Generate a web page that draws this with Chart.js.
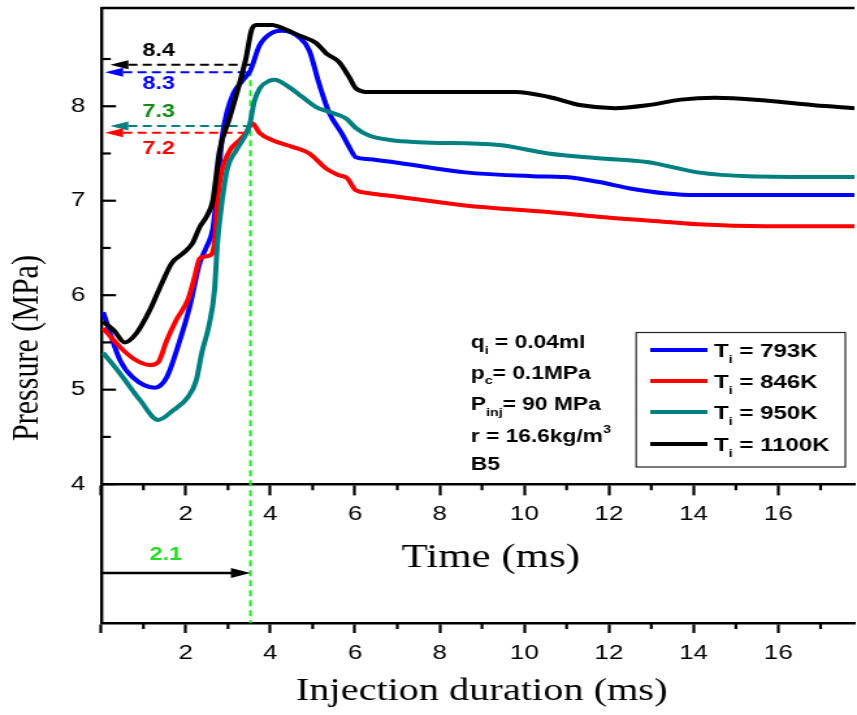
<!DOCTYPE html>
<html>
<head>
<meta charset="utf-8">
<script src="https://cdn.jsdelivr.net/npm/chart.js@4.4.1/dist/chart.umd.min.js"></script>
<style>
html, body { margin: 0; padding: 0; background: #fff; overflow: hidden; }
/* the original figure is stretched sideways, so the chart is drawn narrow and widened */
#wrap { width: 659px; height: 715px; transform: scaleX(1.3005); transform-origin: 0 0; }
</style>
</head>
<body>
<div id="wrap"><canvas id="myChart"></canvas></div>
<script>
'use strict';
// time (ms) / pressure (MPa)
let t793 = [0.05, 0.45, 0.75, 1.27, 1.55, 1.86, 2.09, 2.33, 2.49, 2.64, 2.72, 2.80, 2.87, 2.97, 3.12, 3.34, 3.53, 3.74, 4.05, 4.28, 4.68, 4.92, 5.15, 5.39, 5.69, 5.86, 6.02, 6.33, 7.04, 8.6, 10.2, 10.96, 11.74, 12.5, 13.3, 14.1, 17.8];
let p793 = [5.82, 5.31, 5.13, 5.02, 5.13, 5.52, 5.87, 6.34, 6.51, 6.70, 7.00, 7.40, 7.70, 7.93, 8.13, 8.27, 8.38, 8.64, 8.78, 8.80, 8.73, 8.59, 8.24, 7.93, 7.71, 7.57, 7.46, 7.44, 7.40, 7.30, 7.26, 7.25, 7.20, 7.13, 7.08, 7.06, 7.06];

let t846 = [0.05, 0.45, 0.76, 1.15, 1.35, 1.55, 1.78, 2.05, 2.21, 2.33, 2.56, 2.68, 2.75, 2.84, 3.04, 3.27, 3.43, 3.57, 3.74, 4.05, 4.52, 4.92, 5.32, 5.62, 5.81, 6.02, 6.33, 7.04, 8.6, 10.56, 11.74, 12.9, 14.1, 15.7, 17.8];
let p846 = [5.65, 5.45, 5.33, 5.26, 5.29, 5.52, 5.74, 5.95, 6.19, 6.39, 6.42, 6.55, 7.00, 7.29, 7.53, 7.64, 7.72, 7.82, 7.72, 7.64, 7.57, 7.50, 7.34, 7.27, 7.24, 7.11, 7.08, 7.04, 6.95, 6.88, 6.83, 6.79, 6.75, 6.73, 6.73];

let t950 = [0.05, 0.45, 0.92, 1.35, 1.7, 2.05, 2.25, 2.38, 2.56, 2.68, 2.75, 2.86, 2.99, 3.19, 3.43, 3.52, 3.62, 3.75, 3.98, 4.1, 4.45, 4.75, 5.08, 5.39, 5.79, 6.02, 6.33, 6.87, 7.5, 9.4, 10.56, 11.74, 12.9, 14.1, 15.3, 17.8];
let p950 = [5.39, 5.17, 4.89, 4.68, 4.78, 4.92, 5.10, 5.39, 5.70, 6.05, 6.55, 7.00, 7.35, 7.53, 7.71, 7.82, 8.05, 8.19, 8.27, 8.28, 8.20, 8.10, 7.99, 7.94, 7.87, 7.77, 7.69, 7.64, 7.62, 7.59, 7.50, 7.45, 7.41, 7.30, 7.26, 7.25];

let t1100 = [0.05, 0.3, 0.56, 0.84, 1.15, 1.43, 1.67, 1.93, 2.16, 2.33, 2.49, 2.64, 2.8, 3.04, 3.27, 3.43, 3.55, 3.67, 4.05, 4.21, 4.68, 5.08, 5.32, 5.62, 5.86, 6.02, 6.33, 7.04, 9.79, 10.56, 11.35, 12.14, 12.9, 13.7, 14.5, 15.7, 16.85, 17.8];
let p1100 = [5.72, 5.63, 5.50, 5.60, 5.84, 6.12, 6.34, 6.44, 6.55, 6.72, 6.83, 7.00, 7.53, 7.88, 8.24, 8.52, 8.80, 8.86, 8.86, 8.84, 8.75, 8.67, 8.56, 8.47, 8.31, 8.19, 8.15, 8.15, 8.15, 8.10, 8.01, 7.98, 8.01, 8.07, 8.09, 8.06, 8.01, 7.98];

let seriesNames = ['793K', '846K', '950K', '1100K'];
let seriesColors = ['#0000ff', '#ff0000', '#008080', '#000000'];

let xTicks = [0, 2, 4, 6, 8, 10, 12, 14, 16];
let yTicks = [4, 5, 6, 7, 8];

// pressure levels marked at ignition, and their labels
let markValues = [8.44, 8.36, 7.79, 7.72];
let markLabels = ['8.4', '8.3', '7.3', '7.2'];
let markColors = ['#000000', '#0000ff', '#008080', '#ff0000'];
let markTextColors = ['#000000', '#0000ff', '#128a12', '#ff0000'];
let ignitionTime = 3.53;
let durationLabel = '2.1';

const SANS = '"Liberation Sans", Arial, sans-serif';
const SERIF = '"Liberation Serif", "Times New Roman", serif';

function toPoints(ts, ps) {
    let pts = [];
    for (let i = 0; i < ts.length; i++) {
        pts.push({ x: ts[i], y: ps[i] });
    }
    return pts;
}

let allT = [t793, t846, t950, t1100];
let allP = [p793, p846, p950, p1100];
let datasets = [];
for (let i = 0; i < seriesNames.length; i++) {
    datasets.push({
        label: 'Ti = ' + seriesNames[i],
        data: toPoints(allT[i], allP[i]),
        borderColor: seriesColors[i],
        borderWidth: 4,
        pointRadius: 0,
        cubicInterpolationMode: 'monotone',
        fill: false,
        xAxisID: 'x',
        yAxisID: 'y'
    });
}
// draw black first so the others sit on top like the original
datasets.reverse();

// draws text pieces with sub/superscripts
function drawParts(ctx, x, y, parts, size) {
    for (let i = 0; i < parts.length; i++) {
        let txt = parts[i][0];
        let kind = parts[i][1];
        let s = kind ? Math.round(size * 0.6) : size;
        ctx.font = 'bold ' + s + 'px ' + SANS;
        let dy = kind === 'sub' ? size * 0.33 : (kind === 'sup' ? -size * 0.5 : 0);
        ctx.fillText(txt, x, y + dy);
        x += ctx.measureText(txt).width;
    }
    return x;
}

function arrowHead(ctx, tipX, tipY, dir, len, half, color) {
    ctx.fillStyle = color;
    ctx.beginPath();
    ctx.moveTo(tipX, tipY);
    ctx.lineTo(tipX - dir * len, tipY - half);
    ctx.lineTo(tipX - dir * len, tipY + half);
    ctx.closePath();
    ctx.fill();
}

const decorPlugin = {
    id: 'decor',
    beforeDatasetsDraw(chart) {
        let ctx = chart.ctx;
        let xs = chart.scales.x;
        let ys = chart.scales.y;
        let area = chart.chartArea;
        let xIgn = xs.getPixelForValue(ignitionTime);
        ctx.save();
        // dashed level lines with left arrows
        ctx.lineWidth = 2;
        ctx.setLineDash([7, 4]);
        for (let i = 0; i < markValues.length; i++) {
            let y = ys.getPixelForValue(markValues[i]);
            let tip = area.left + (i % 2 === 0 ? 7 : 3);
            ctx.strokeStyle = markColors[i];
            ctx.beginPath();
            ctx.moveTo(tip + 14, y);
            ctx.lineTo(xIgn, y);
            ctx.stroke();
        }
        // vertical ignition line
        ctx.strokeStyle = '#22e622';
        ctx.lineWidth = 2;
        ctx.setLineDash([6, 4]);
        ctx.beginPath();
        ctx.moveTo(xIgn, ys.getPixelForValue(8.38));
        ctx.lineTo(xIgn, area.bottom);
        ctx.stroke();
        ctx.restore();
    },
    afterDraw(chart) {
        let ctx = chart.ctx;
        let xs = chart.scales.x;
        let ys = chart.scales.y;
        let area = chart.chartArea;
        let xIgn = xs.getPixelForValue(ignitionTime);
        ctx.save();
        ctx.setLineDash([]);

        // frame top line
        ctx.strokeStyle = '#000';
        ctx.lineWidth = 2.4;
        ctx.beginPath();
        ctx.moveTo(area.left, area.top);
        ctx.lineTo(area.right, area.top);
        ctx.stroke();

        // inward y ticks, major and half steps
        ctx.lineWidth = 2.2;
        for (let v = 4; v <= 8.5; v += 0.5) {
            let y = ys.getPixelForValue(v);
            let len = Number.isInteger(v) ? 11.5 : 7.5;
            ctx.beginPath();
            ctx.moveTo(area.left, y);
            ctx.lineTo(area.left + len, y);
            ctx.stroke();
        }
        // minor x ticks on both time axes
        let yMid = ys.getPixelForValue(4);
        for (let v = 1; v < 18; v += 2) {
            let x = xs.getPixelForValue(v);
            ctx.beginPath();
            ctx.moveTo(x, yMid);
            ctx.lineTo(x, yMid + 6);
            ctx.moveTo(x, area.bottom);
            ctx.lineTo(x, area.bottom + 6);
            ctx.stroke();
        }

        // arrowheads of the level lines
        for (let i = 0; i < markValues.length; i++) {
            let y = ys.getPixelForValue(markValues[i]);
            let tip = area.left + (i % 2 === 0 ? 7 : 3);
            arrowHead(ctx, tip, y, -1, 14, 4.5, markColors[i]);
        }
        // level labels
        ctx.textAlign = 'center';
        ctx.textBaseline = 'alphabetic';
        ctx.font = 'bold 18px ' + SANS;
        let labX = xs.getPixelForValue(1.36);
        for (let i = 0; i < markValues.length; i++) {
            let y = ys.getPixelForValue(markValues[i]);
            ctx.fillStyle = markTextColors[i];
            let off = i % 2 === 0 ? -9 : 17;
            if (i === 3) off = 21;
            ctx.fillText(markLabels[i], labX, y + off);
        }

        // duration arrow under the time axis
        let yArr = ys.getPixelForValue(3.06);
        ctx.strokeStyle = '#000';
        ctx.lineWidth = 2.4;
        ctx.beginPath();
        ctx.moveTo(area.left, yArr);
        ctx.lineTo(xIgn - 12, yArr);
        ctx.stroke();
        arrowHead(ctx, xIgn, yArr, 1, 15, 5, '#000');
        ctx.fillStyle = '#22dd22';
        ctx.font = 'bold 18px ' + SANS;
        ctx.fillText(durationLabel, xs.getPixelForValue(1.53), ys.getPixelForValue(3.2));

        // axis titles
        ctx.fillStyle = '#000';
        ctx.textAlign = 'center';
        ctx.font = '33px ' + SERIF;
        ctx.fillText('Time (ms)', (area.left + area.right) / 2 + 10, 567);
        ctx.font = '31px ' + SERIF;
        ctx.fillText('Injection duration (ms)', (area.left + area.right) / 2 + 3, 700);
        ctx.save();
        ctx.translate(28.5, 348);
        ctx.rotate(-Math.PI / 2);
        ctx.font = '30px ' + SERIF;
        ctx.fillText('Pressure (MPa)', 0, 0);
        ctx.restore();

        // condition notes
        ctx.textAlign = 'left';
        ctx.fillStyle = '#000';
        let nx = 362;
        drawParts(ctx, nx, 348, [['q', null], ['i', 'sub'], [' = 0.04ml', null]], 17.5);
        drawParts(ctx, nx, 378.5, [['p', null], ['c', 'sub'], ['= 0.1MPa', null]], 17.5);
        drawParts(ctx, nx, 410, [['P', null], ['inj', 'sub'], ['= 90 MPa', null]], 17.5);
        drawParts(ctx, nx, 442, [['r = 16.6kg/m', null], ['3', 'sup']], 17.5);
        drawParts(ctx, nx, 470, [['B5', null]], 17.5);

        // legend box
        ctx.strokeStyle = '#222';
        ctx.lineWidth = 1.2;
        ctx.strokeRect(489.2, 332.5, 160.8, 134.5);
        let rows = [350, 381, 412, 444];
        for (let i = 0; i < seriesNames.length; i++) {
            ctx.strokeStyle = seriesColors[i];
            ctx.lineWidth = 4;
            ctx.beginPath();
            ctx.moveTo(500, rows[i]);
            ctx.lineTo(544, rows[i]);
            ctx.stroke();
            ctx.fillStyle = '#000';
            drawParts(ctx, 549, rows[i] + 7, [['T', null], ['i', 'sub'], [' = ' + seriesNames[i], null]], 18.5);
        }
        ctx.restore();
    }
};

const tickFont = { family: SANS, size: 20 };

function noPad(scale) {
    scale.paddingTop = 0;
    scale.paddingBottom = 0;
    scale.paddingLeft = 0;
    scale.paddingRight = 0;
}

let ctx = document.getElementById('myChart').getContext('2d');
let chart = new Chart(ctx, {
    type: 'line',
    data: { datasets: datasets },
    options: {
        responsive: true,
        maintainAspectRatio: false,
        animation: false,
        layout: { padding: { top: 8, left: 0, right: 0, bottom: 0 } },
        plugins: {
            legend: { display: false },
            tooltip: { enabled: false }
        },
        scales: {
            x: {
                type: 'linear',
                axis: 'x',
                position: { y: 4 },
                min: 0,
                max: 17.8,
                afterBuildTicks: function (scale) {
                    scale.ticks = xTicks.map(v => ({ value: v }));
                },
                afterFit: noPad,
                grid: { drawOnChartArea: false, tickLength: 10, tickWidth: 2.2, tickColor: '#000' },
                border: { color: '#000', width: 2.4 },
                ticks: { color: '#000', font: tickFont, padding: 8, maxRotation: 0,
                    callback: v => (v === 0 ? '' : String(v)) }
            },
            x2: {
                type: 'linear',
                axis: 'x',
                position: 'bottom',
                min: 0,
                max: 17.8,
                afterBuildTicks: function (scale) {
                    scale.ticks = xTicks.map(v => ({ value: v }));
                },
                afterFit: function (scale) { scale.height = 92; noPad(scale); },
                grid: { drawOnChartArea: false, tickLength: 10, tickWidth: 2.2, tickColor: '#000' },
                border: { color: '#000', width: 2.4 },
                ticks: { color: '#000', font: tickFont, padding: 8, maxRotation: 0,
                    callback: v => (v === 0 ? '' : String(v)) }
            },
            y: {
                type: 'linear',
                min: 2.53,
                max: 9.04,
                afterBuildTicks: function (scale) {
                    scale.ticks = yTicks.map(v => ({ value: v }));
                },
                afterFit: function (scale) { scale.width = 77.7; noPad(scale); },
                grid: { display: false, drawTicks: false },
                border: { color: '#000', width: 2.4 },
                ticks: { color: '#000', font: tickFont, padding: 12 }
            }
        }
    },
    plugins: [decorPlugin]
});
</script>
</body>
</html>
